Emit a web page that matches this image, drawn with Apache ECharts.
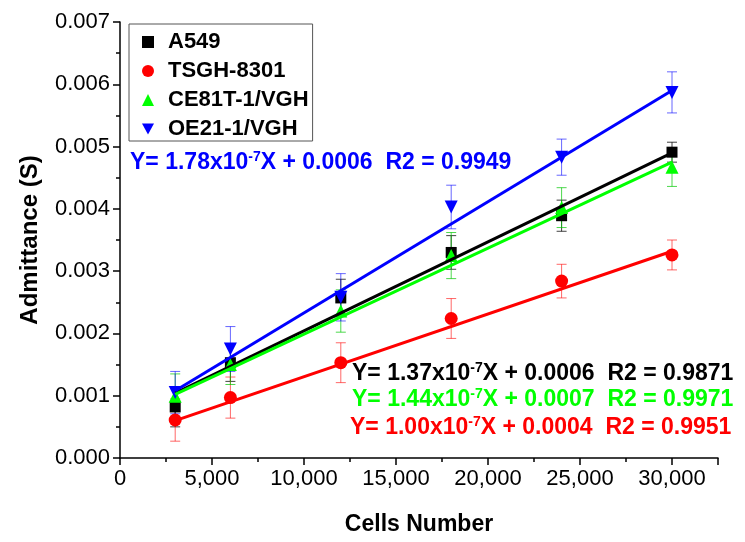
<!DOCTYPE html>
<html>
<head>
<meta charset="utf-8">
<script src="https://cdn.jsdelivr.net/npm/echarts@6/dist/echarts.min.js"></script>
<style>html,body{margin:0;padding:0;background:#fff}#c{width:745px;height:542px}</style>
</head>
<body>
<div id="c"></div>
<script>
// ---- data ----
const cells = [3000, 6000, 12000, 18000, 24000, 30000];
const a549 = [0.00082, 0.00153, 0.00257, 0.0033, 0.00389, 0.00491];
const a549Err = [0.00032, 0.0003, 0.0003, 0.00027, 0.00025, 0.00016];
const tsgh = [0.00061, 0.00097, 0.00153, 0.00224, 0.00284, 0.00326];
const tsghErr = [0.00034, 0.00033, 0.00032, 0.00032, 0.00027, 0.00024];
const ce81 = [0.00099, 0.0015, 0.00236, 0.00325, 0.00402, 0.00467];
const ce81Err = [0.00036, 0.00032, 0.00034, 0.00037, 0.00032, 0.00031];
const oe21 = [0.00105, 0.00175, 0.00258, 0.00403, 0.00483, 0.00587];
const oe21Err = [0.00034, 0.00036, 0.00038, 0.00035, 0.00029, 0.00033];
// fitted lines, endpoints
const fitX = [3000, 30000];
const a549Fit = [0.00104, 0.0049];
const tsghFit = [0.0006, 0.00332];
const ce81Fit = [0.00102, 0.00475];
const oe21Fit = [0.00108, 0.0059];
const names = ['A549', 'TSGH-8301', 'CE81T-1/VGH', 'OE21-1/VGH'];
const equations = [
  ['1.37x10', '-7', 'X + 0.0006  R2 = 0.9871'],
  ['1.00x10', '-7', 'X + 0.0004  R2 = 0.9951'],
  ['1.44x10', '-7', 'X + 0.0007  R2 = 0.9971'],
  ['1.78x10', '-7', 'X + 0.0006  R2 = 0.9949']
];

const FONT = '"Liberation Sans", Arial, sans-serif';
const colors = ['#000000', '#ff0000', '#00ff00', '#0000ff'];
const errColors = ['rgba(0,0,0,0.75)', 'rgba(255,0,0,0.6)', 'rgba(0,200,0,0.7)', 'rgba(0,0,255,0.6)'];
const vals = [a549, tsgh, ce81, oe21];
const errs = [a549Err, tsghErr, ce81Err, oe21Err];
const fits = [a549Fit, tsghFit, ce81Fit, oe21Fit];
const symbols = ['rect', 'circle', 'triangle', 'triangle'];
const symSizes = [11, 13, 13, 13];
const rotates = [0, 0, 0, 180];

const series = [];
for (let k = 0; k < 4; k++) {
  const col = errColors[k];
  series.push({
    type: 'custom', name: names[k] + ' err', silent: true, z: 1,
    data: cells.map((c, i) => [c, vals[k][i] - errs[k][i], vals[k][i] + errs[k][i]]),
    encode: { x: 0, y: [1, 2] },
    renderItem: function (params, api) {
      const lo = api.coord([api.value(0), api.value(1)]);
      const hi = api.coord([api.value(0), api.value(2)]);
      const w = 5;
      const st = { stroke: col, lineWidth: 1 };
      return { type: 'group', children: [
        { type: 'line', shape: { x1: lo[0], y1: lo[1], x2: hi[0], y2: hi[1] }, style: st },
        { type: 'line', shape: { x1: lo[0] - w, y1: lo[1], x2: lo[0] + w, y2: lo[1] }, style: st },
        { type: 'line', shape: { x1: hi[0] - w, y1: hi[1], x2: hi[0] + w, y2: hi[1] }, style: st }
      ]};
    }
  });
}
for (let k = 0; k < 4; k++) {
  series.push({
    type: 'scatter', name: names[k], z: 2,
    symbol: symbols[k], symbolSize: symSizes[k], symbolRotate: rotates[k],
    itemStyle: { color: colors[k], opacity: 1 },
    data: cells.map((c, i) => [c, vals[k][i]])
  });
}
for (let k = 0; k < 4; k++) {
  series.push({
    type: 'line', name: names[k] + ' fit', z: 3, silent: true,
    symbol: 'none', lineStyle: { color: colors[k], width: 3 },
    data: fitX.map((x, i) => [x, fits[k][i]])
  });
}

function eqText(k, left, top) {
  const e = equations[k];
  return {
    type: 'text', left: left, top: top, z: 100,
    style: {
      text: '{b|Y= ' + e[0] + '}{s|' + e[1] + '}{b|' + e[2] + '}',
      fill: colors[k],
      rich: {
        b: { fontSize: 23, fontWeight: 'bold', fontFamily: FONT, fill: colors[k], lineHeight: 26 },
        s: { fontSize: 14, fontWeight: 'bold', fontFamily: FONT, fill: colors[k], lineHeight: 26, verticalAlign: 'top', padding: [0, 0, 14, 0] }
      }
    }
  };
}

function fmtX(v) {
  if (v % 5000 !== 0) return '';
  return String(v).replace(/\B(?=(\d{3})+(?!\d))/g, ',');
}

const chart = echarts.init(document.getElementById('c'), null, { renderer: 'canvas' });
chart.setOption({
  animation: false,
  backgroundColor: '#ffffff',
  grid: { left: 120, right: 27, top: 22, bottom: 84 },
  legend: {
    orient: 'vertical', left: 129, top: 24,
    padding: [7, 4, 1, 13],
    borderColor: '#555', borderWidth: 1, borderRadius: 0,
    itemWidth: 12, itemHeight: 12, itemGap: 7,
    textStyle: { fontSize: 22, fontWeight: 'bold', fontFamily: FONT, color: '#000', padding: [0, 0, 0, 9] },
    data: [
      { name: names[0], icon: 'rect', itemStyle: { color: colors[0] } },
      { name: names[1], icon: 'circle' },
      { name: names[2], icon: 'triangle' },
      { name: names[3], icon: 'path://M0,0L10,0L5,9Z' }
    ],
    selectedMode: false
  },
  xAxis: {
    type: 'value', min: 0, max: 32500, interval: 5000,
    name: 'Cells Number', nameLocation: 'middle', nameGap: 55,
    nameTextStyle: { fontSize: 23, fontWeight: 'bold', fontFamily: FONT, color: '#000' },
    axisLine: { onZero: false, lineStyle: { color: '#000', width: 1.5 } },
    axisTick: { show: true, length: 7, lineStyle: { color: '#000', width: 1.5 } },
    minorTick: { show: true, splitNumber: 2, length: 4, lineStyle: { color: '#000', width: 1.5 } },
    splitLine: { show: false },
    axisLabel: { fontSize: 22, fontFamily: FONT, color: '#000', margin: 10, formatter: fmtX, showMaxLabel: false }
  },
  yAxis: {
    type: 'value', min: 0, max: 0.007, interval: 0.001,
    name: 'Admittance (S)', nameLocation: 'middle', nameGap: 78, nameRotate: 90,
    nameTextStyle: { fontSize: 24, fontWeight: 'bold', fontFamily: FONT, color: '#000' },
    axisLine: { show: true, onZero: false, lineStyle: { color: '#000', width: 1.5 } },
    axisTick: { show: true, length: 7, lineStyle: { color: '#000', width: 1.5 } },
    minorTick: { show: true, splitNumber: 2, length: 4, lineStyle: { color: '#000', width: 1.5 } },
    splitLine: { show: false },
    axisLabel: { fontSize: 22, fontFamily: FONT, color: '#000', margin: 10, formatter: v => v.toFixed(3) }
  },
  graphic: [
    eqText(3, 130, 150),
    eqText(0, 352, 361),
    eqText(2, 352, 387),
    eqText(1, 350, 415)
  ],
  series: series
});
</script>
</body>
</html>
